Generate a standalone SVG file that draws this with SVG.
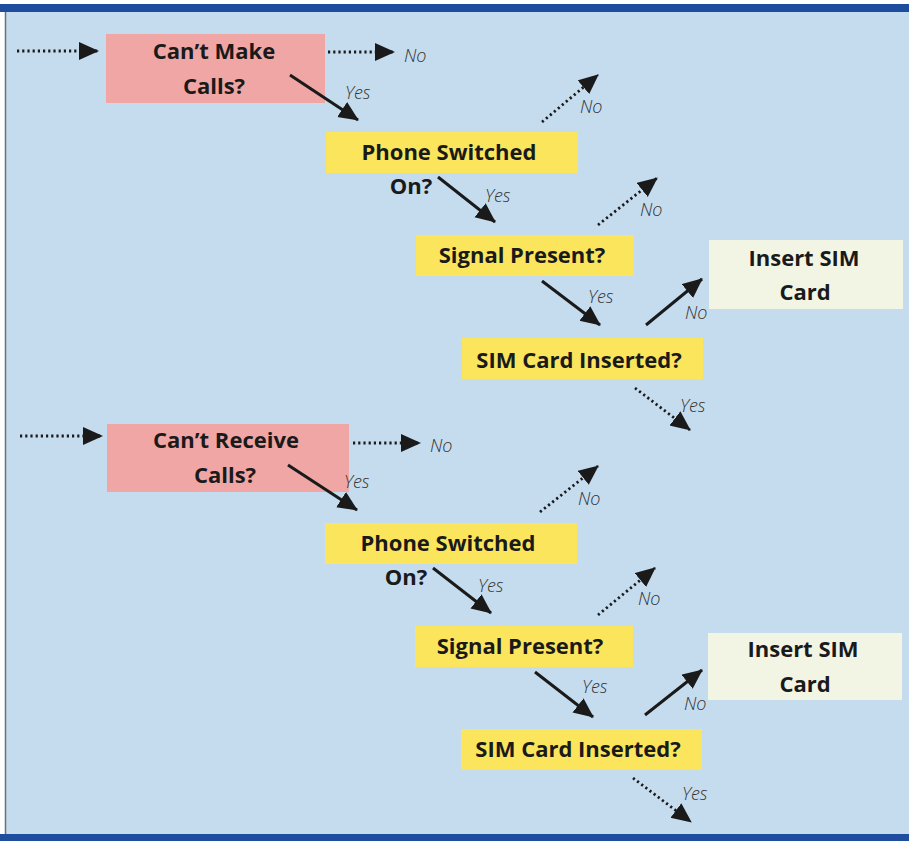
<svg xmlns="http://www.w3.org/2000/svg" width="909" height="841" viewBox="0 0 909 841">
  <defs>
    <marker id="ah" markerUnits="userSpaceOnUse" markerWidth="22" markerHeight="20" refX="19" refY="9" orient="auto">
      <path d="M0,0 L20,9 L0,18 z" fill="#1a1a1a"/>
    </marker>
  </defs>
  <style>
    .bg { fill: #c5dcef; }
    .pink { fill: #efa6a4; }
    .yellow { fill: #fae55c; }
    .cream { fill: #f3f5e4; }
    .t { font-family: "Open Sans", "Liberation Sans", sans-serif; font-weight: 700; font-size: 22px; fill: #1a1a1a; text-anchor: middle; }
    .lbl { font-family: "Open Sans", "Liberation Sans", sans-serif; font-style: italic; font-weight: 300; font-size: 18px; fill: #333333; }
    .solid { stroke: #1a1a1a; stroke-width: 3; fill: none; marker-end: url(#ah); }
    .dot { stroke: #1a1a1a; stroke-width: 2.8; fill: none; stroke-dasharray: 2.2 3; marker-end: url(#ah); }
  </style>

  <rect x="0" y="0" width="909" height="841" fill="#ffffff"/>
  <rect class="bg" x="5" y="12" width="904" height="822"/>
  <rect x="0" y="4" width="909" height="8" fill="#1d4d9c"/>
  <rect x="0" y="834" width="909" height="7" fill="#1d4d9c"/>
  <line x1="5.5" y1="12" x2="5.5" y2="834" stroke="#6a6f78" stroke-width="1.5"/>

  <!-- Top flow -->
  <g id="cant-make-calls">
    <rect class="pink" x="106" y="34" width="219" height="69"/>
    <text class="t" x="214" y="59">Can’t Make</text>
    <text class="t" x="214" y="94">Calls?</text>
  </g>
  <g id="phone-switched-1">
    <rect class="yellow" x="326" y="132" width="252" height="41"/>
    <text class="t" x="449" y="160">Phone Switched</text>
    <text class="t" x="411" y="194">On?</text>
  </g>
  <g id="signal-present-1">
    <rect class="yellow" x="416" y="235" width="218" height="41"/>
    <text class="t" x="522" y="263">Signal Present?</text>
  </g>
  <g id="sim-inserted-1">
    <rect class="yellow" x="462" y="338" width="241" height="41"/>
    <text class="t" x="579" y="368">SIM Card Inserted?</text>
  </g>
  <g id="insert-sim-1">
    <rect class="cream" x="709" y="240" width="194" height="69"/>
    <text class="t" x="804" y="266">Insert SIM</text>
    <text class="t" x="805" y="300">Card</text>
  </g>

  <!-- Bottom flow -->
  <g id="cant-receive-calls">
    <rect class="pink" x="107" y="424" width="242" height="68"/>
    <text class="t" x="226" y="448">Can’t Receive</text>
    <text class="t" x="225" y="483">Calls?</text>
  </g>
  <g id="phone-switched-2">
    <rect class="yellow" x="325" y="523" width="252" height="41"/>
    <text class="t" x="448" y="551">Phone Switched</text>
    <text class="t" x="406" y="585">On?</text>
  </g>
  <g id="signal-present-2">
    <rect class="yellow" x="415" y="626" width="218" height="41"/>
    <text class="t" x="520" y="654">Signal Present?</text>
  </g>
  <g id="sim-inserted-2">
    <rect class="yellow" x="461" y="729" width="241" height="41"/>
    <text class="t" x="578" y="757">SIM Card Inserted?</text>
  </g>
  <g id="insert-sim-2">
    <rect class="cream" x="708" y="633" width="194" height="67"/>
    <text class="t" x="803" y="657">Insert SIM</text>
    <text class="t" x="805" y="692">Card</text>
  </g>

  <g id="connectors">
    <!-- top flow -->
    <line class="dot" x1="17" y1="51" x2="98" y2="51"/>
    <line class="dot" x1="328" y1="52" x2="394" y2="52"/>
    <line class="solid" x1="290" y1="75" x2="358" y2="120"/>
    <line class="dot" x1="542" y1="122" x2="598" y2="75"/>
    <line class="solid" x1="438" y1="177" x2="495" y2="222"/>
    <line class="dot" x1="598" y1="225" x2="657" y2="178"/>
    <line class="solid" x1="542" y1="281" x2="600" y2="325"/>
    <line class="solid" x1="646" y1="325" x2="702" y2="279"/>
    <line class="dot" x1="635" y1="388" x2="690" y2="430"/>
    <!-- bottom flow -->
    <line class="dot" x1="20" y1="436" x2="102" y2="436"/>
    <line class="dot" x1="353" y1="443" x2="420" y2="443"/>
    <line class="solid" x1="288" y1="465" x2="357" y2="510"/>
    <line class="dot" x1="540" y1="512" x2="598" y2="466"/>
    <line class="solid" x1="433" y1="568" x2="491" y2="613"/>
    <line class="dot" x1="598" y1="615" x2="655" y2="568"/>
    <line class="solid" x1="535" y1="672" x2="593" y2="717"/>
    <line class="solid" x1="645" y1="715" x2="702" y2="670"/>
    <line class="dot" x1="633" y1="778" x2="691" y2="822"/>
  </g>

  <g id="labels">
    <text class="lbl" x="404" y="62">No</text>
    <text class="lbl" x="345" y="99">Yes</text>
    <text class="lbl" x="580" y="113">No</text>
    <text class="lbl" x="485" y="202">Yes</text>
    <text class="lbl" x="640" y="216">No</text>
    <text class="lbl" x="588" y="303">Yes</text>
    <text class="lbl" x="685" y="319">No</text>
    <text class="lbl" x="680" y="412">Yes</text>

    <text class="lbl" x="430" y="452">No</text>
    <text class="lbl" x="344" y="488">Yes</text>
    <text class="lbl" x="578" y="505">No</text>
    <text class="lbl" x="478" y="592">Yes</text>
    <text class="lbl" x="638" y="605">No</text>
    <text class="lbl" x="582" y="693">Yes</text>
    <text class="lbl" x="684" y="710">No</text>
    <text class="lbl" x="682" y="800">Yes</text>
  </g>
</svg>
